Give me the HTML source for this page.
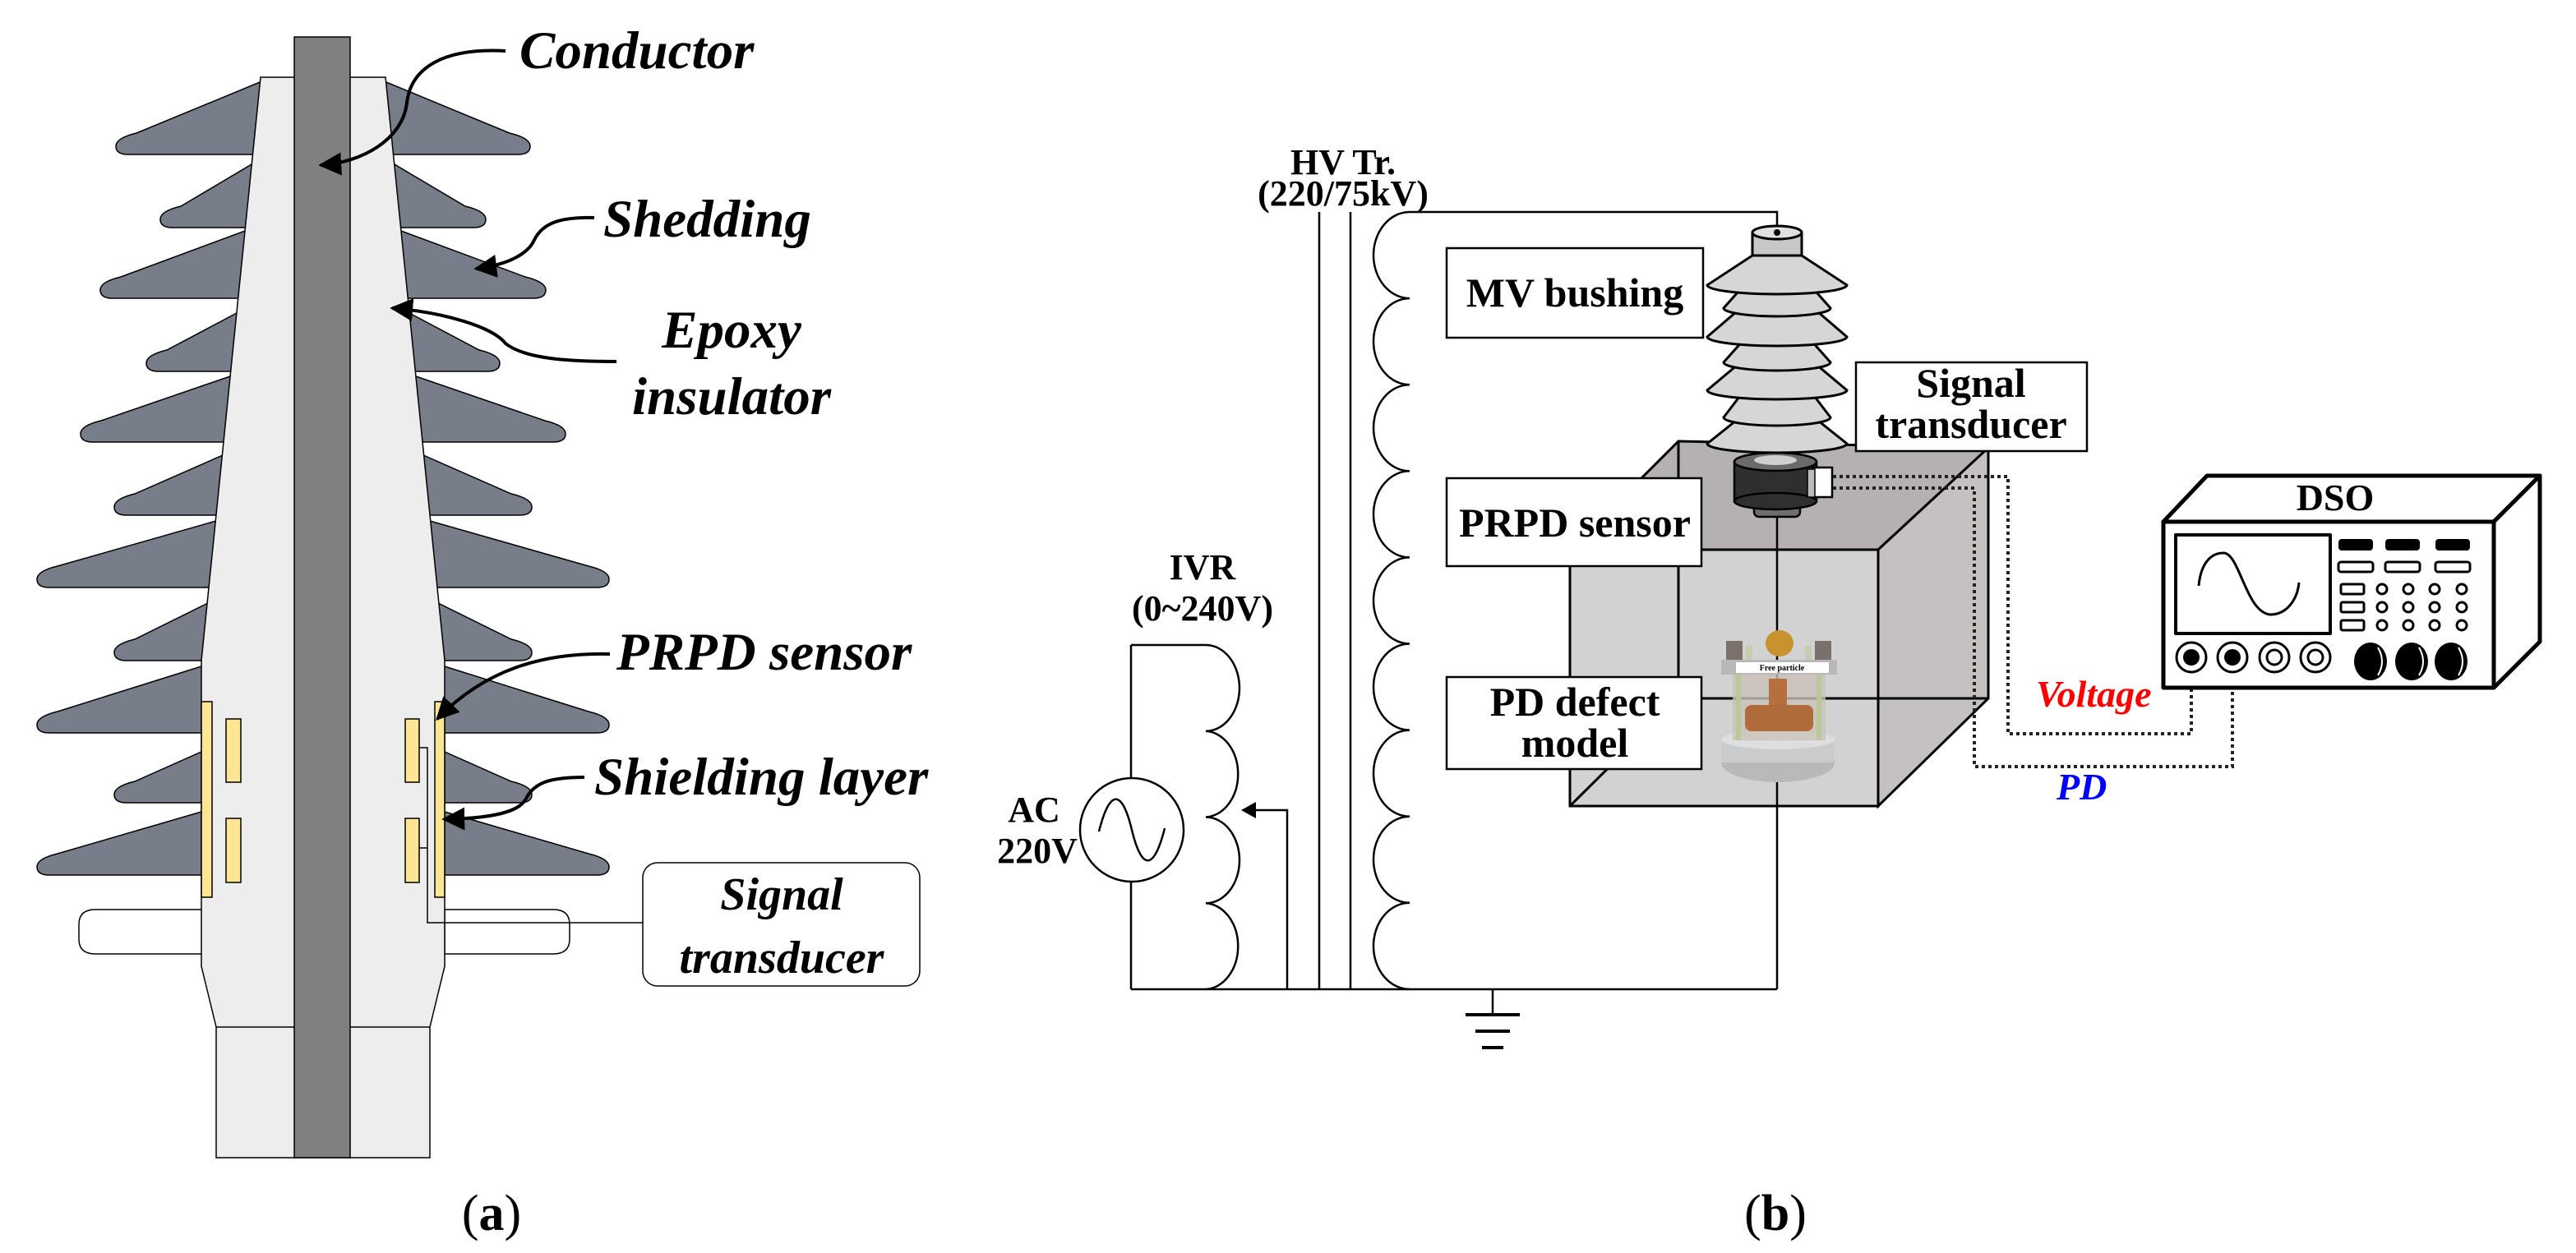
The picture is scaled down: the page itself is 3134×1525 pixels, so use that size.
<!DOCTYPE html>
<html><head><meta charset="utf-8"><style>
html,body{margin:0;padding:0;background:#fff;}
svg{display:block;}
.bi{font-family:"Liberation Serif",serif;font-weight:bold;font-style:italic;}
.b{font-family:"Liberation Serif",serif;font-weight:bold;}
</style></head><body>
<svg width="3134" height="1525" viewBox="0 0 3134 1525" xmlns="http://www.w3.org/2000/svg">
<defs>
<marker id="ah" viewBox="0 0 10 10" refX="9" refY="5" markerWidth="7" markerHeight="7" orient="auto"><path d="M0,0 L10,5 L0,10 Z" fill="#000"/></marker>
</defs>

<!-- ===== Panel (a) ===== -->
<g id="sheds" fill="#787d8a" stroke="#000" stroke-width="1.5">
<path d="M390,100 L470,100 L620,162 Q645,168 645,178 Q645,188 630,188 L390,188Z"/>
<path d="M390,200 L480,200 L566,251 Q591,257 591,267 Q591,277 576,277 L390,277Z"/>
<path d="M390,281 L488,281 L639,337 Q664,343 664,353 Q664,363 649,363 L390,363Z"/>
<path d="M390,381 L498,381 L583,426 Q608,432 608,442 Q608,452 593,452 L390,452Z"/>
<path d="M390,458 L506,458 L663,512 Q688,518 688,528 Q688,538 673,538 L390,538Z"/>
<path d="M390,554 L515,554 L622,601 Q647,607 647,617 Q647,627 632,627 L390,627Z"/>
<path d="M390,634 L523,634 L716,689 Q741,695 741,705 Q741,715 726,715 L390,715Z"/>
<path d="M390,734 L533,734 L622,778 Q647,784 647,794 Q647,804 632,804 L390,804Z"/>
<path d="M390,811 L541,811 L716,866 Q741,872 741,882 Q741,892 726,892 L390,892Z"/>
<path d="M390,915 L541,915 L622,951 Q647,957 647,967 Q647,977 632,977 L390,977Z"/>
<path d="M390,988 L541,988 L716,1039 Q741,1045 741,1055 Q741,1065 726,1065 L390,1065Z"/>
</g>
<use href="#sheds" transform="translate(786,0) scale(-1,1)"/>
<!-- collars -->
<path d="M246,1107 L116,1107 Q96,1107 96,1125 L96,1143 Q96,1161 116,1161 L246,1161Z" fill="#fff" stroke="#000" stroke-width="1.5"/>
<path d="M541,1107 L673,1107 Q693,1107 693,1125 L693,1143 Q693,1161 673,1161 L541,1161Z" fill="#fff" stroke="#000" stroke-width="1.5"/>
<!-- body -->
<path d="M317,94 L469,94 L541,804 L541,1176 L523,1250 L523,1409 L263,1409 L263,1250 L245,1176 L245,804 Z" fill="#ededed" stroke="#000" stroke-width="1.5"/>
<line x1="263" y1="1250" x2="523" y2="1250" stroke="#000" stroke-width="1.5"/>
<rect x="358" y="45" width="68" height="1364" fill="#808080" stroke="#000" stroke-width="1.5"/>
<!-- plates -->
<g fill="#fde594" stroke="#000" stroke-width="1.5">
<rect x="245" y="854" width="13" height="238"/>
<rect x="275" y="875" width="18" height="77"/>
<rect x="275" y="996" width="18" height="78"/>
<rect x="529" y="854" width="12" height="238"/>
<rect x="493" y="875" width="17" height="77"/>
<rect x="493" y="996" width="17" height="78"/>
</g>
<path d="M510,910 L520,910 L520,1123 L782,1123 M510,1032 L520,1032" fill="none" stroke="#000" stroke-width="1.5"/>
<rect x="782" y="1050" width="337" height="150" rx="18" fill="#fff" stroke="#000" stroke-width="1.5"/>
<text class="bi" font-size="56" x="951" y="1107" text-anchor="middle">Signal</text>
<text class="bi" font-size="56" x="951" y="1184" text-anchor="middle">transducer</text>
<!-- labels -->
<text class="bi" font-size="65" x="632" y="83">Conductor</text>
<text class="bi" font-size="65" x="734" y="288">Shedding</text>
<text class="bi" font-size="65" x="890" y="423" text-anchor="middle">Epoxy</text>
<text class="bi" font-size="65" x="890" y="504" text-anchor="middle">insulator</text>
<text class="bi" font-size="65" x="750" y="815">PRPD sensor</text>
<text class="bi" font-size="65" x="723" y="967">Shielding layer</text>
<g fill="none" stroke="#000" stroke-width="4" marker-end="url(#ah)">
<path d="M615,62 C540,58 500,82 495,125 C490,170 440,198 390,201"/>
<path d="M723,265 C680,264 660,272 650,292 C643,308 620,322 579,327"/>
<path d="M750,440 C700,440 640,438 615,418 C600,398 540,380 477,375"/>
<path d="M742,796 C660,794 590,815 532,875"/>
<path d="M711,946 C670,946 650,952 640,972 C632,988 600,996 540,997"/>
</g>
<text font-family="Liberation Serif, serif" font-size="62" x="598" y="1497" text-anchor="middle">(<tspan font-weight="bold">a</tspan>)</text>

<!-- ===== Panel (b) ===== -->
<g fill="none" stroke="#000" stroke-width="2.5">
<path d="M1715,258 A44,52.55 0 0 0 1715,363.1 A44,52.55 0 0 0 1715,468.2 A44,52.55 0 0 0 1715,573.3 A44,52.55 0 0 0 1715,678.4 A44,52.55 0 0 0 1715,783.5 A44,52.55 0 0 0 1715,888.6 A44,52.55 0 0 0 1715,993.7 A44,52.55 0 0 0 1715,1098.8 A44,52.55 0 0 0 1715,1204"/>
<path d="M1376,785 L1467,785 A41,52.4 0 0 1 1467,889.8 A41,52.4 0 0 1 1467,994.5 A41,52.4 0 0 1 1467,1099.3 A41,52.4 0 0 1 1467,1204"/>
<line x1="1376" y1="785" x2="1376" y2="1204"/>
<line x1="1376" y1="1204" x2="2162" y2="1204"/>
<line x1="1605" y1="258" x2="1605" y2="1204"/>
<line x1="1643" y1="258" x2="1643" y2="1204"/>
<path d="M1715,258 L2162,258 L2162,283"/>
<path d="M1816,1204 L1816,1235"/>
<line x1="1783" y1="1235" x2="1849" y2="1235" stroke-width="4"/>
<line x1="1795" y1="1255" x2="1837" y2="1255" stroke-width="4"/>
<line x1="1803" y1="1275" x2="1829" y2="1275" stroke-width="4"/>
<path d="M1566,1204 L1566,986 L1522,986"/>
</g>
<path d="M1510,986 L1528,976 L1528,996Z" fill="#000"/>
<circle cx="1377" cy="1010" r="63" fill="#fff" stroke="#000" stroke-width="2.5"/>
<path d="M1337,1012 C1350,960 1365,960 1377,1010 C1389,1060 1404,1060 1417,1008" fill="none" stroke="#000" stroke-width="2.5"/>
<text class="b" font-size="44" x="1258" y="1000" text-anchor="middle">AC</text>
<text class="b" font-size="44" x="1262" y="1050" text-anchor="middle">220V</text>
<text class="b" font-size="44" x="1463" y="705" text-anchor="middle">IVR</text>
<text class="b" font-size="44" x="1463" y="755" text-anchor="middle">(0~240V)</text>
<text class="b" font-size="44" x="1634" y="212" text-anchor="middle">HV Tr.</text>
<text class="b" font-size="44" x="1634" y="250" text-anchor="middle">(220/75kV)</text>

<!-- cube -->
<polygon points="1910,669 2042,537 2419,545 2285,669" fill="#b5b1b0" stroke="#000" stroke-width="3"/>
<polygon points="2285,669 2419,545 2419,850 2285,981" fill="#c4c1c0" stroke="#000" stroke-width="3"/>
<rect x="1910" y="669" width="375" height="312" fill="#d2d2d2" stroke="#000" stroke-width="3"/>
<g stroke="#000" stroke-width="3" fill="none">
<line x1="2042" y1="537" x2="2042" y2="850"/>
<line x1="2042" y1="850" x2="2419" y2="850"/>
<line x1="1910" y1="981" x2="2042" y2="850"/>
</g>

<line x1="2162" y1="629" x2="2162" y2="1204" stroke="#000" stroke-width="2.5"/>

<!-- bushing -->
<g stroke="#000" stroke-width="3" fill="#d6d6d6">
<rect x="2137" y="540" width="50" height="22" fill="#cfcfcf"/>
<path d="M2127,500 L2077,540 A85,11 0 0 0 2247,540 L2197,500Z"/>
<path d="M2129,466 L2097,508 A65,10 0 0 0 2227,508 L2195,466Z"/>
<path d="M2127,433 L2077,475 A85,11 0 0 0 2247,475 L2197,433Z"/>
<path d="M2129,405 L2097,441 A65,10 0 0 0 2227,441 L2195,405Z"/>
<path d="M2127,367 L2077,410 A85,11 0 0 0 2247,410 L2197,367Z"/>
<path d="M2129,339 L2097,375 A65,10 0 0 0 2227,375 L2195,339Z"/>
<path d="M2132,311 L2077,347 A85,11 0 0 0 2247,347 L2192,311Z"/>
<rect x="2132" y="283" width="60" height="28" fill="#c8c8c8"/>
<ellipse cx="2162" cy="283" rx="30" ry="8" fill="#e0e0e0"/>
</g>
<circle cx="2162" cy="283" r="4" fill="#000"/>
<!-- sensor -->
<rect x="2134" y="608" width="56" height="21" rx="6" fill="#6e6e6e" stroke="#000" stroke-width="2.5"/>
<rect x="2110" y="562" width="100" height="48" fill="#2f2f2f" stroke="#000" stroke-width="2.5"/>
<ellipse cx="2160" cy="610" rx="50" ry="10" fill="#2f2f2f" stroke="#000" stroke-width="2.5"/>
<ellipse cx="2160" cy="562" rx="50" ry="11" fill="#6a6a6a" stroke="#000" stroke-width="2.5"/>
<ellipse cx="2160" cy="560" rx="26" ry="6" fill="#cfcfcf"/>
<rect x="2205" y="569" width="24" height="36" fill="#fff" stroke="#000" stroke-width="2.5"/>
<rect x="2199" y="571" width="9" height="34" fill="#bbb" stroke="#000" stroke-width="1.5"/>

<!-- PD defect model -->
<ellipse cx="2163" cy="928" rx="69" ry="24" fill="#b7b9bb"/>
<rect x="2094" y="900" width="137" height="28" fill="#c9cbcd"/>
<ellipse cx="2163" cy="900" rx="69" ry="12" fill="#dcdedf"/>
<rect x="2108" y="821" width="113" height="80" fill="#c9c2b8" opacity="0.8"/>
<rect x="2123" y="858" width="83" height="32" rx="8" fill="#b06b3a"/>
<rect x="2152" y="826" width="22" height="32" fill="#b5703e"/>
<rect x="2112" y="821" width="6" height="80" fill="#b9c79a"/>
<rect x="2210" y="821" width="6" height="80" fill="#b9c79a"/>
<rect x="2094" y="803" width="141" height="18" fill="#b8b8b8"/>
<rect x="2112" y="806" width="113" height="13" fill="#fff"/>
<text font-family="Liberation Serif, serif" font-size="10" font-weight="bold" x="2168" y="816" text-anchor="middle">Free particle</text>
<ellipse cx="2165" cy="783" rx="17" ry="16" fill="#c8922e"/>
<rect x="2100" y="780" width="20" height="23" fill="#7a716a"/>
<rect x="2208" y="780" width="20" height="23" fill="#7a716a"/>
<rect x="2124" y="786" width="8" height="17" fill="#c5ccb0"/>
<rect x="2196" y="786" width="8" height="17" fill="#c5ccb0"/>

<!-- label boxes -->
<g fill="#fff" stroke="#000" stroke-width="2.5">
<rect x="1760" y="302" width="312" height="109"/>
<rect x="1760" y="582" width="310" height="107"/>
<rect x="1760" y="824" width="310" height="112"/>
<rect x="2258" y="441" width="281" height="108"/>
</g>
<text class="b" font-size="50" x="1916" y="373" text-anchor="middle">MV bushing</text>
<text class="b" font-size="50" x="1916" y="653" text-anchor="middle">PRPD sensor</text>
<text class="b" font-size="50" x="1916" y="871" text-anchor="middle">PD defect</text>
<text class="b" font-size="50" x="1916" y="921" text-anchor="middle">model</text>
<text class="b" font-size="50" x="2398" y="483" text-anchor="middle">Signal</text>
<text class="b" font-size="50" x="2398" y="533" text-anchor="middle">transducer</text>

<!-- dotted lines -->
<g fill="none" stroke="#222" stroke-width="4" stroke-dasharray="4 4">
<path d="M2230,580 L2443,580 L2443,893 L2666,893 L2666,818"/>
<path d="M2230,594 L2402,594 L2402,933 L2716,933 L2716,818"/>
</g>
<text class="bi" font-size="46" fill="#ff0000" x="2477" y="860">Voltage</text>
<text class="bi" font-size="46" fill="#0000ff" x="2502" y="973">PD</text>

<!-- DSO -->
<g stroke="#000" stroke-width="5" fill="#fff" stroke-linejoin="round">
<polygon points="2632,635 2685,579 3090,579 3034,635"/>
<polygon points="3034,635 3090,579 3090,781 3034,837"/>
<rect x="2632" y="635" width="402" height="202"/>
<rect x="2647" y="651" width="188" height="120" stroke-width="4"/>
</g>
<text class="b" font-size="46" x="2841" y="621" text-anchor="middle">DSO</text>
<path d="M2675,713 C2677,690 2687,673 2705,673 C2725,673 2732,745 2762,748 C2782,748 2795,730 2797,709" fill="none" stroke="#000" stroke-width="3"/>
<g fill="#000">
<rect x="2845" y="656" width="42" height="14" rx="4"/>
<rect x="2902" y="656" width="42" height="14" rx="4"/>
<rect x="2963" y="656" width="42" height="14" rx="4"/>
</g>
<g fill="none" stroke="#000" stroke-width="3">
<rect x="2845" y="684" width="42" height="12" rx="3"/>
<rect x="2902" y="684" width="42" height="12" rx="3"/>
<rect x="2963" y="684" width="42" height="12" rx="3"/>
<rect x="2848" y="711" width="28" height="12" rx="2"/>
<rect x="2848" y="733" width="28" height="12" rx="2"/>
<rect x="2848" y="755" width="28" height="12" rx="2"/>
<circle cx="2898" cy="717" r="6"/><circle cx="2930" cy="717" r="6"/><circle cx="2962" cy="717" r="6"/><circle cx="2995" cy="717" r="6"/>
<circle cx="2898" cy="739" r="6"/><circle cx="2930" cy="739" r="6"/><circle cx="2962" cy="739" r="6"/><circle cx="2995" cy="739" r="6"/>
<circle cx="2898" cy="761" r="6"/><circle cx="2930" cy="761" r="6"/><circle cx="2962" cy="761" r="6"/><circle cx="2995" cy="761" r="6"/>
<circle cx="2666" cy="800" r="18"/><circle cx="2716" cy="800" r="18"/><circle cx="2767" cy="800" r="18"/><circle cx="2817" cy="800" r="18"/>
<circle cx="2767" cy="800" r="9"/><circle cx="2817" cy="800" r="9"/>
</g>
<circle cx="2666" cy="800" r="10" fill="#000"/><circle cx="2716" cy="800" r="10" fill="#000"/>
<g fill="#000">
<ellipse cx="2884" cy="805" rx="20" ry="23"/><ellipse cx="2934" cy="805" rx="20" ry="23"/><ellipse cx="2982" cy="805" rx="20" ry="23"/>
</g>
<g fill="none" stroke="#fff" stroke-width="2">
<path d="M2893,788 Q2903,805 2893,822"/><path d="M2943,788 Q2953,805 2943,822"/><path d="M2991,788 Q3001,805 2991,822"/>
</g>

<text font-family="Liberation Serif, serif" font-size="62" x="2160" y="1497" text-anchor="middle">(<tspan font-weight="bold">b</tspan>)</text>
</svg>
</body></html>
